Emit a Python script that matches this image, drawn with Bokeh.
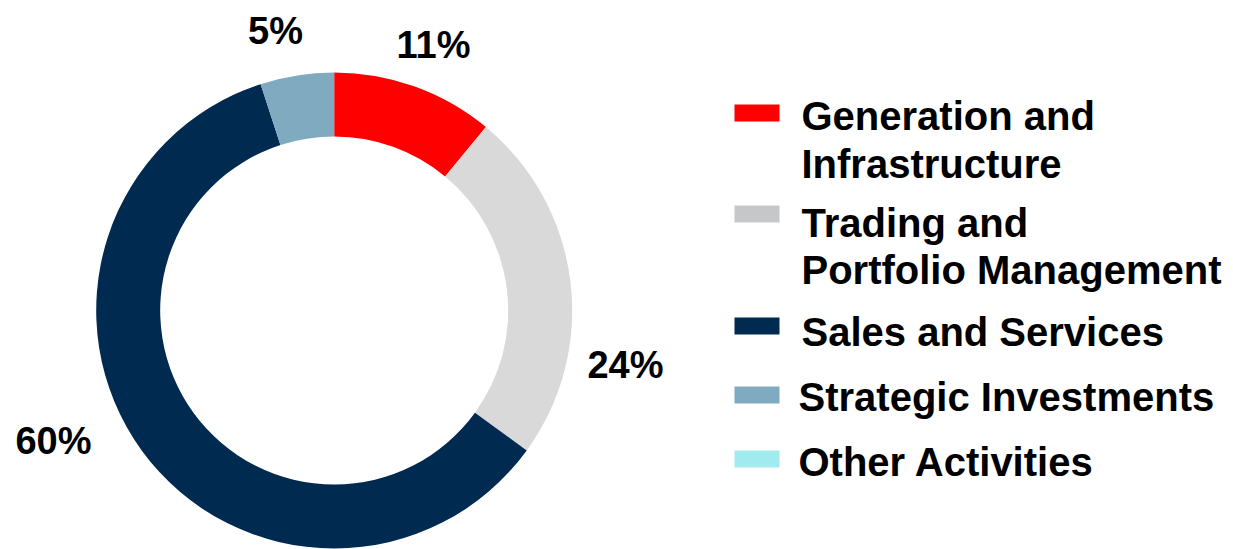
import math
from bokeh.plotting import figure
from bokeh.models import Range1d, ColumnDataSource
from bokeh.core.properties import value
from bokeh.embed import file_html
from bokeh.resources import INLINE

# ---- data ----
categories = ["Generation and\nInfrastructure",
              "Trading and\nPortfolio Management",
              "Sales and Services",
              "Strategic Investments",
              "Other Activities"]
shares = [11, 24, 60, 5, 0]
pct_labels = ["11%", "24%", "60%", "5%", ""]
colors = ["#FF0000", "#D9D9D9", "#002A50", "#7FAABF", "#A1EBEE"]
legend_colors = ["#FF0000", "#C6C7C9", "#002A50", "#7FAABF", "#A1EBEE"]

W, H = 1233, 549
FONT = value("Liberation Sans")
TEXT_SHIFT = 14  # renderer baseline correction (px)

p = figure(width=W, height=H, output_backend="svg", toolbar_location=None,
           x_range=Range1d(0, W), y_range=Range1d(0, H),
           min_border=0)
p.axis.visible = False
p.grid.visible = False
p.outline_line_color = None
p.background_fill_color = "white"

def sy(y):  # screen y -> data y
    return H - y

# ---- donut ----
cx, cy = 333.7, sy(310)
total = sum(shares)
starts, ends, cols = [], [], []
a = math.pi / 2
for s, c in zip(shares, colors):
    span = 2 * math.pi * s / total
    if s > 0:
        starts.append(a)
        ends.append(a - span)
        cols.append(c)
    a -= span
src = ColumnDataSource(dict(start=starts, end=ends, color=cols))
p.annular_wedge(x=cx, y=cy, inner_radius=174, outer_radius=238,
                start_angle="start", end_angle="end", direction="clock",
                fill_color="color", line_color=None, source=src)

# ---- percent labels ----
label_pos = [(433, 58), (625, 378), (53, 454), (275, 44), (0, 0)]
lx = [pos[0] for pos, t in zip(label_pos, pct_labels) if t]
ly = [sy(pos[1] - TEXT_SHIFT) for pos, t in zip(label_pos, pct_labels) if t]
lt = [t for t in pct_labels if t]
p.text(x=lx, y=ly, text=lt, text_font=FONT, text_font_style="bold",
       text_font_size="38px", text_align="center", text_baseline="alphabetic",
       text_color="black")

# ---- legend ----
patch_tops = [104, 205, 317, 386, 450]
line_baselines = [[129, 177], [236, 283], [345], [410], [475]]
text_x = [801, 801, 801, 798, 798]
p.quad(left=[734] * 5, right=[779] * 5,
       top=[sy(t) for t in patch_tops], bottom=[sy(t + 17) for t in patch_tops],
       fill_color=legend_colors, line_color=None)
tx, ty, tt = [], [], []
for cat, bases, x0 in zip(categories, line_baselines, text_x):
    for line, b in zip(cat.split("\n"), bases):
        tx.append(x0)
        ty.append(sy(b - TEXT_SHIFT))
        tt.append(line)
p.text(x=tx, y=ty, text=tt, text_font=FONT, text_font_style="bold",
       text_font_size="40px", text_align="left", text_baseline="alphabetic",
       text_color="black")

open("out.html", "w").write(file_html(p, INLINE))
